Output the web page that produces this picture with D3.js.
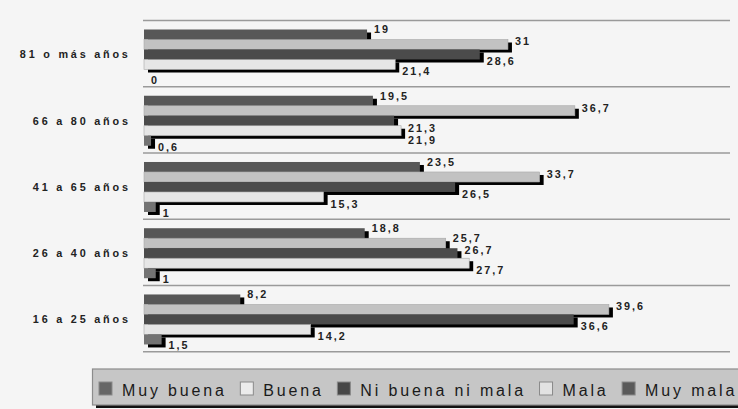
<!DOCTYPE html>
<html><head><meta charset="utf-8">
<script src="https://cdn.jsdelivr.net/npm/d3@7"></script>
<style>html,body{margin:0;padding:0;background:#f5f5f5;}svg{display:block;}</style>
</head><body>
<script>
const categories = ["81 o más años", "66 a 80 años", "41 a 65 años", "26 a 40 años", "16 a 25 años"];
const series = ["Muy buena", "Buena", "Ni buena ni mala", "Mala", "Muy mala"];
const muyBuena = [19, 19.5, 23.5, 18.8, 8.2];
const buena = [31, 36.7, 33.7, 25.7, 39.6];
const niBuenaNiMala = [28.6, 21.3, 26.5, 26.7, 36.6];
const mala = [21.4, 21.9, 15.3, 27.7, 14.2];
const muyMala = [0, 0.6, 1, 1, 1.5];
const seriesValues = [muyBuena, buena, niBuenaNiMala, mala, muyMala];

const colors = ["#575757", "#c2c2c2", "#4b4b4b", "#e6e6e6", "#737373"];
const swatchColors = ["#666666", "#ececec", "#474747", "#e2e2e2", "#5a5a5a"];

const W = 738, H = 409;
const svg = d3.select("body").append("svg").attr("width", W).attr("height", H);
svg.append("rect").attr("width", W).attr("height", H).attr("fill", "#f5f5f5");

const x = d3.scaleLinear().domain([0, 50]).range([144, 731]);
const y = d3.scaleBand().domain(categories).range([20.5, 351.7]).padding(0);
const yi = d3.scaleBand().domain(series).range([9, 59]).padding(0);

// separators
const seps = categories.map(c => y(c)).concat([y.range()[1]]);
svg.selectAll("line.sep").data(seps).join("line")
  .attr("x1", 143).attr("x2", 730)
  .attr("y1", d => d).attr("y2", d => d)
  .attr("stroke", "#9a9a9a").attr("stroke-width", 1.5);

// category labels
svg.selectAll("text.cat").data(categories).join("text")
  .attr("x", 128 + 2.7).attr("y", c => y(c) + yi(series[2]) + yi.bandwidth() / 2 + 1)
  .attr("text-anchor", "end").attr("dominant-baseline", "middle")
  .style("font-family", "'Liberation Sans', Arial, sans-serif")
  .style("font-size", "10.8px").style("font-weight", "bold")
  .style("letter-spacing", "2.8px").attr("fill", "#222")
  .text(c => c);

const valueFont = "'Liberation Sans', Arial, sans-serif";

categories.forEach((c, ci) => {
  const g = svg.append("g").attr("transform", `translate(0,${y(c)})`);
  series.forEach((s, si) => {
    const v = seriesValues[si][ci];
    const y0 = yi(s), h = yi.bandwidth();
    if (v > 0) {
      g.append("rect").attr("x", x(0) + 4).attr("y", y0 + 3)
        .attr("width", x(v) - x(0)).attr("height", h).attr("fill", "#000");
      g.append("rect").attr("x", x(0)).attr("y", y0)
        .attr("width", x(v) - x(0)).attr("height", h).attr("fill", colors[si])
        .attr("stroke", si === 3 || si === 1 ? "#a8a8a8" : "none").attr("stroke-width", 0.6);
    }
  });
  // value labels with simple placement rules and collision avoidance
  let prev = null;
  series.forEach((s, si) => {
    const v = seriesValues[si][ci];
    const next = si < series.length - 1 ? seriesValues[si + 1][ci] : null;
    let shift;
    if (next !== null && next - v > 0.8) shift = -4;
    else if (si === 1) shift = -2;
    else if (si === series.length - 1) shift = 7;
    else shift = 8;
    let lx = x(v) + 7;
    if (shift > 0 && next !== null && next > v) lx = x(next) + 7;
    let ly = yi(s) + yi.bandwidth() / 2 + shift;
    const t = g.append("text")
      .attr("x", lx)
      .attr("dominant-baseline", "middle")
      .style("font-family", valueFont)
      .style("font-size", "10.8px").style("font-weight", "bold")
      .style("letter-spacing", "2px").attr("fill", "#222")
      .text(String(v).replace(".", ","));
    const w = t.node().getComputedTextLength();
    if (prev && lx < prev.x + prev.w && lx + w > prev.x && ly - prev.y < 12) ly = prev.y + 12;
    t.attr("y", ly);
    prev = { x: lx, w: w, y: ly };
  });
});

// legend
const lg = svg.append("g");
lg.append("rect").attr("x", 96).attr("y", 372).attr("width", 700).attr("height", 36).attr("fill", "#111");
lg.append("rect").attr("x", 92.5).attr("y", 369).attr("width", 700).attr("height", 36)
  .attr("fill", "#c6c6c6").attr("stroke", "#8c8c8c").attr("stroke-width", 1.2);
let lx = 99;
series.forEach((s, si) => {
  lg.append("rect").attr("x", lx).attr("y", 382).attr("width", 13).attr("height", 13)
    .attr("fill", swatchColors[si]).attr("stroke", "#8a8a8a").attr("stroke-width", 1);
  const t = lg.append("text").attr("x", lx + 23).attr("y", 396)
    .style("font-family", "'Liberation Sans', Arial, sans-serif")
    .style("font-size", "16px").style("letter-spacing", "2.85px").attr("fill", "#1a1a1a")
    .text(s);
  lx = lx + 23 + t.node().getComputedTextLength() + 13.5;
});
</script>
</body></html>
